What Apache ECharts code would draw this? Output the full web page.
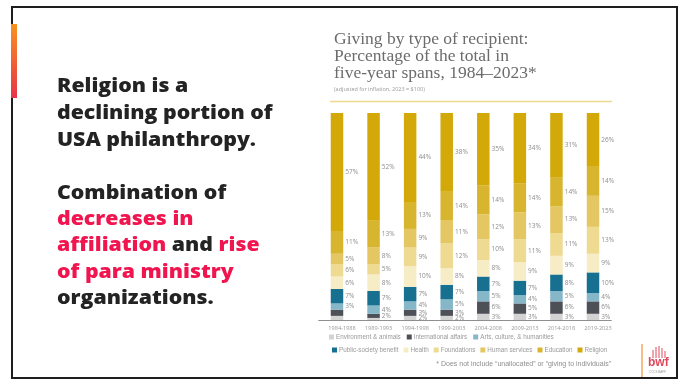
<!DOCTYPE html>
<html>
<head>
<meta charset="utf-8">
<script src="https://cdn.jsdelivr.net/npm/echarts@6/dist/echarts.min.js"></script>
<style>
html,body{margin:0;padding:0;background:#fff;}
#chart{width:685px;height:380px;}
</style>
</head>
<body>
<div id="chart"></div>
<script>
// ---- data ----
var categories = ['1984-1988','1989-1993','1994-1998','1999-2003','2004-2008','2009-2013','2014-2018','2019-2023'];
var seriesNames = ['Environment & animals','International affairs','Arts, culture, & humanities','Public-society benefit','Health','Foundations','Human services','Education','Religion'];
var environment    = [2, 1, 2, 2, 3, 3, 3, 3];
var international  = [3, 2, 3, 3, 6, 5, 6, 6];
var arts           = [3, 4, 4, 5, 5, 4, 5, 4];
var publicSociety  = [7, 7, 7, 7, 7, 7, 8, 10];
var health         = [6, 8, 10, 8, 8, 9, 9, 9];
var foundations    = [6, 5, 9, 12, 10, 11, 11, 13];
var humanServices  = [5, 8, 9, 11, 12, 13, 13, 15];
var education      = [11, 13, 13, 14, 14, 14, 14, 14];
var religion       = [57, 52, 44, 38, 35, 34, 31, 26];
// indices of segments with no printed label
var unlabeledEnvironment = [0, 1];
var unlabeledInternational = [0];

var allValues = [environment, international, arts, publicSociety, health, foundations, humanServices, education, religion];
var unlabeled = [unlabeledEnvironment, unlabeledInternational, [], [], [], [], [], [], []];
var colors = ['#d3d3d3', '#4e5057', '#85b7c8', '#17708f', '#f6ecc6', '#eeda91', '#e4c763', '#d8b52f', '#d2a908'];

var series = allValues.map(function (vals, si) {
  return {
    name: seriesNames[si],
    type: 'bar',
    stack: 'total',
    barWidth: 12.5,
    itemStyle: { color: colors[si] },
    label: {
      show: true, position: 'right', distance: 2,
      fontFamily: 'Open Sans', fontSize: 6.5, color: '#8e8e8e',
      formatter: function (p) { return p.value + '%'; }
    },
    data: vals.map(function (v, i) {
      return unlabeled[si].indexOf(i) >= 0 ? { value: v, label: { show: false } } : v;
    })
  };
});

var chart = echarts.init(document.getElementById('chart'), null, { renderer: 'canvas' });

var leftFont = '800 19px "Open Sans"';
var red = '#f0144f';
var dark = '#232323';
var legendText = { fontFamily: 'Liberation Sans', fontSize: 6.3, color: '#9a9a9a', padding: [0, 0, 0, -3] };

function leftLine(y, txt, color) {
  return { type: 'text', x: 57, y: y, scaleX: 1.12, style: { text: txt, font: leftFont, fill: color, verticalAlign: 'top' } };
}

chart.setOption({
  animation: false,
  backgroundColor: '#ffffff',
  title: {
    text: 'Giving by type of recipient:\nPercentage of the total in\nfive-year spans, 1984\u20132023*',
    subtext: '(adjusted for inflation, 2023 = $100)',
    left: 329, top: 26,
    itemGap: 4,
    textStyle: { fontFamily: 'Liberation Serif', fontSize: 17.5, fontWeight: 'normal', color: '#6c6c6c', lineHeight: 16.8 },
    subtextStyle: { fontFamily: 'Open Sans', fontSize: 5.5, color: '#9a9a9a' }
  },
  legend: [{
    data: seriesNames.slice(0, 3),
    left: 329, top: 334, width: 340, padding: 0, orient: 'horizontal',
    itemWidth: 5, itemHeight: 5, itemGap: 6,
    icon: 'rect',
    textStyle: legendText
  }, {
    data: seriesNames.slice(3),
    left: 332, top: 347, width: 340, padding: 0, orient: 'horizontal',
    itemWidth: 5, itemHeight: 5, itemGap: 5,
    icon: 'rect',
    textStyle: legendText
  }],
  grid: { left: 318.7, top: 113, width: 292.6, height: 207 },
  xAxis: {
    type: 'category', data: categories,
    axisLine: { lineStyle: { color: '#8f8f8f', width: 1 } },
    axisTick: { show: false },
    axisLabel: { interval: 0, fontFamily: 'Open Sans', fontSize: 5.6, color: '#9a9a9a', margin: 5, padding: [0, 0, 0, 10] }
  },
  yAxis: { type: 'value', min: 0, max: 100, show: false },
  series: series,
  graphic: [
    { type: 'rect', shape: { x: 12, y: 7, width: 665, height: 371 }, style: { fill: 'none', stroke: '#1e1e1e', lineWidth: 2 }, z: 100 },
    { type: 'rect', shape: { x: 11, y: 24, width: 6, height: 74 }, z: 101,
      style: { fill: new echarts.graphic.LinearGradient(0, 0, 0, 1, [{ offset: 0, color: '#f7921f' }, { offset: 1, color: '#e8334b' }]) } },
    leftLine(77, 'Religion is a', dark),
    leftLine(104, 'declining portion of', dark),
    leftLine(131, 'USA philanthropy.', dark),
    leftLine(184, 'Combination of', dark),
    leftLine(210, 'decreases in', red),
    { type: 'text', x: 57, y: 236, scaleX: 1.12, style: { text: '{r|affiliation} {d|and} {r|rise}', font: leftFont, verticalAlign: 'top',
      rich: { r: { font: leftFont, fill: red, color: red }, d: { font: leftFont, fill: dark, color: dark } } } },
    leftLine(263, 'of para ministry', red),
    leftLine(289, 'organizations.', dark),
    { type: 'line', shape: { x1: 330, y1: 101.5, x2: 612, y2: 101.5 }, style: { stroke: '#eed98c', lineWidth: 1.5 } },
    { type: 'text', right: 74, top: 361, style: { text: '* Does not include \u201cunallocated\u201d or \u201cgiving to individuals\u201d', font: '7px "Liberation Sans"', fill: '#8e8e8e' } },
    { type: 'line', shape: { x1: 642, y1: 344, x2: 642, y2: 378 }, style: { stroke: '#f6a860', lineWidth: 1.5 } },
    { type: 'line', shape: { x1: 653, y1: 350, x2: 653, y2: 358 }, style: { stroke: '#e0485c', lineWidth: 1 } },
    { type: 'line', shape: { x1: 656, y1: 347, x2: 656, y2: 358 }, style: { stroke: '#e0485c', lineWidth: 1 } },
    { type: 'line', shape: { x1: 659, y1: 346, x2: 659, y2: 358 }, style: { stroke: '#e0485c', lineWidth: 1 } },
    { type: 'line', shape: { x1: 662, y1: 348, x2: 662, y2: 358 }, style: { stroke: '#e0485c', lineWidth: 1 } },
    { type: 'line', shape: { x1: 665, y1: 351, x2: 665, y2: 358 }, style: { stroke: '#e0485c', lineWidth: 1 } },
    { type: 'text', left: 648, top: 357, style: { text: 'bwf', font: 'bold 12px "Liberation Sans"', fill: '#e0485c' } },
    { type: 'text', left: 649, top: 371, style: { text: 'CCCS BAFF', font: '3px "Liberation Sans"', fill: '#999' } }
  ]
});
</script>
</body>
</html>
